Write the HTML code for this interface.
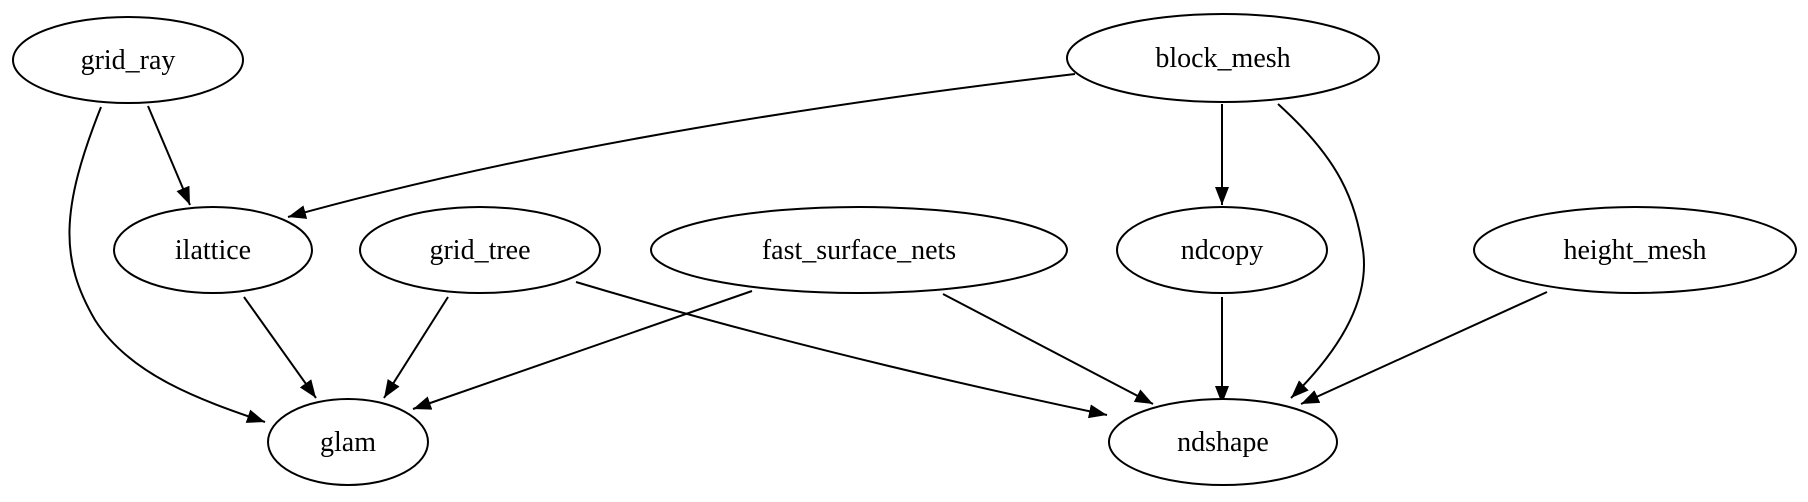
<!DOCTYPE html>
<html><head><meta charset="utf-8"><style>html,body{margin:0;padding:0;background:#fff}svg{display:block}</style></head>
<body>
<svg width="1808" height="502" viewBox="0 0 1808 502" xmlns="http://www.w3.org/2000/svg">
<defs><marker id="a" markerWidth="20" markerHeight="14" refX="18" refY="7" orient="auto" markerUnits="userSpaceOnUse"><path d="M0,0 L18,7 L0,14 z" fill="#000"/></marker></defs>
<g fill="none" stroke="#000" stroke-width="2" marker-end="url(#a)">
<path d="M148,106 L190,205"/>
<path d="M101,107 C60,210 60,260 95,320 C130,375 200,400 265,422"/>
<path d="M1075,74 Q600,130 288,217"/>
<path d="M1222,104 L1222,205"/>
<path d="M1278,104 C1340,160 1355,200 1363,250 C1370,300 1340,350 1291,398"/>
<path d="M244,297 L316,398"/>
<path d="M448,297 L384,398"/>
<path d="M576,282 Q820,355 1107,415"/>
<path d="M752,291 L413,409"/>
<path d="M943,294 L1153,404"/>
<path d="M1222,297 L1222,404"/>
<path d="M1547,292 L1301,404"/>
</g>
<g fill="#fff" stroke="#000" stroke-width="2">
<ellipse cx="128" cy="60" rx="115" ry="43"/>
<ellipse cx="1223" cy="58" rx="156" ry="44"/>
<ellipse cx="213" cy="250" rx="99" ry="43"/>
<ellipse cx="480" cy="250" rx="120" ry="43"/>
<ellipse cx="859" cy="250" rx="208" ry="43"/>
<ellipse cx="1222" cy="250" rx="105" ry="43"/>
<ellipse cx="1635" cy="250" rx="161" ry="43"/>
<ellipse cx="348" cy="442" rx="80" ry="43"/>
<ellipse cx="1223" cy="442" rx="114" ry="43"/>
</g>
<g font-family="'Liberation Serif',serif" font-size="28" text-anchor="middle" fill="#000">
<text x="128" y="69">grid_ray</text>
<text x="1223" y="67">block_mesh</text>
<text x="213" y="259">ilattice</text>
<text x="480" y="259">grid_tree</text>
<text x="859" y="259">fast_surface_nets</text>
<text x="1222" y="259">ndcopy</text>
<text x="1635" y="259">height_mesh</text>
<text x="348" y="451">glam</text>
<text x="1223" y="451">ndshape</text>
</g>
</svg>
</body></html>
